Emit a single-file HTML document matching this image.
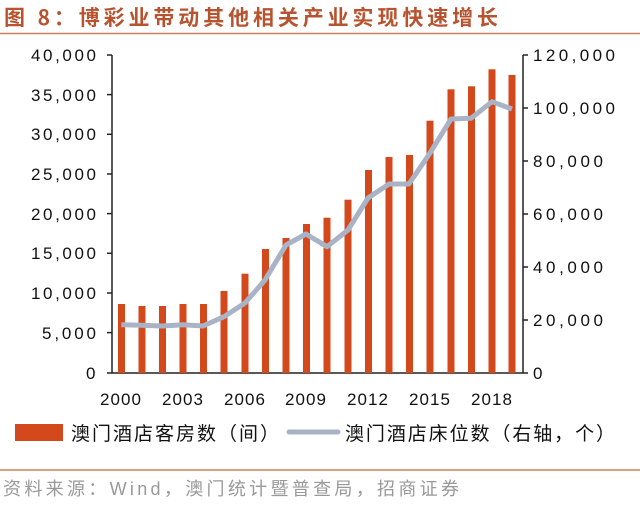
<!DOCTYPE html>
<html><head><meta charset="utf-8"><style>
body{margin:0;background:#fff;}
svg text{font-family:"Liberation Sans","Noto Sans CJK SC",sans-serif;}
</style></head><body>
<svg width="640" height="502" viewBox="0 0 640 502" xmlns="http://www.w3.org/2000/svg">
<text x="4" y="25" font-size="21" fill="#b8532f" font-weight="bold" textLength="494" lengthAdjust="spacing" style="font-family:'Noto Sans CJK SC',sans-serif">图 8：博彩业带动其他相关产业实现快速增长</text>
<line x1="0" y1="33.5" x2="640" y2="33.5" stroke="#c9825f" stroke-width="1.5"/>
<g stroke="#222" stroke-width="1.5" fill="none">
<line x1="112" y1="55" x2="112" y2="373"/>
<line x1="112" y1="373" x2="523" y2="373"/>
<line x1="523" y1="55" x2="523" y2="373"/>
<line x1="107" y1="55" x2="112" y2="55"/><line x1="107" y1="94.6" x2="112" y2="94.6"/><line x1="107" y1="134.3" x2="112" y2="134.3"/><line x1="107" y1="174" x2="112" y2="174"/><line x1="107" y1="213.6" x2="112" y2="213.6"/><line x1="107" y1="253.3" x2="112" y2="253.3"/><line x1="107" y1="293" x2="112" y2="293"/><line x1="107" y1="332.6" x2="112" y2="332.6"/><line x1="107" y1="373" x2="112" y2="373"/>
<line x1="523" y1="55" x2="528" y2="55"/><line x1="523" y1="108" x2="528" y2="108"/><line x1="523" y1="161" x2="528" y2="161"/><line x1="523" y1="214" x2="528" y2="214"/><line x1="523" y1="267" x2="528" y2="267"/><line x1="523" y1="320" x2="528" y2="320"/><line x1="523" y1="373" x2="528" y2="373"/>
</g>
<g font-size="17" fill="#111">
<text x="31" y="61" textLength="65" lengthAdjust="spacing">40,000</text><text x="31" y="101" textLength="65" lengthAdjust="spacing">35,000</text><text x="31" y="140" textLength="65" lengthAdjust="spacing">30,000</text><text x="31" y="180" textLength="65" lengthAdjust="spacing">25,000</text><text x="31" y="220" textLength="65" lengthAdjust="spacing">20,000</text><text x="31" y="259" textLength="65" lengthAdjust="spacing">15,000</text><text x="31" y="299" textLength="65" lengthAdjust="spacing">10,000</text><text x="42" y="339" textLength="54" lengthAdjust="spacing">5,000</text><text x="86" y="379">0</text>
</g>
<g font-size="17" fill="#111">
<text x="533" y="61" textLength="82" lengthAdjust="spacing">120,000</text><text x="533" y="114" textLength="82" lengthAdjust="spacing">100,000</text><text x="533" y="167" textLength="70" lengthAdjust="spacing">80,000</text><text x="533" y="220" textLength="70" lengthAdjust="spacing">60,000</text><text x="533" y="273" textLength="70" lengthAdjust="spacing">40,000</text><text x="533" y="326" textLength="70" lengthAdjust="spacing">20,000</text><text x="533" y="379">0</text>
</g>
<g fill="#d4491b">
<rect x="118" y="304" width="7" height="69"/><rect x="138.5" y="306" width="7" height="67"/><rect x="159" y="306" width="7" height="67"/><rect x="179.5" y="304" width="7" height="69"/><rect x="200" y="304" width="7" height="69"/>
<rect x="220.5" y="291" width="7" height="82"/><rect x="241.5" y="273.7" width="7" height="99.3"/><rect x="262" y="249" width="7" height="124"/><rect x="282.5" y="238" width="7" height="135"/><rect x="303" y="224" width="7" height="149"/>
<rect x="323.5" y="217.7" width="7" height="155.3"/><rect x="344.5" y="199.7" width="7" height="173.3"/><rect x="365" y="170" width="7" height="203"/><rect x="385.5" y="157" width="7" height="216"/><rect x="406" y="155" width="7" height="218"/>
<rect x="426.5" y="120.7" width="7" height="252.3"/><rect x="447.5" y="89.3" width="7" height="283.7"/><rect x="468" y="86.3" width="7" height="286.7"/><rect x="488.5" y="69.3" width="7" height="303.7"/><rect x="508.5" y="75" width="7" height="298"/>
</g>
<polyline fill="none" stroke="#a9b3c6" stroke-width="5" stroke-linejoin="round" points="121.3,324.7 141.7,325.3 162,326 183,324.7 203,326 224,316.7 245,303 265,280 286,245 306,234 327,246.7 348,230 368,198 389,184 409,184 430,153 451,119 471,118.3 492,101.7 512,109"/>
<g font-size="17" fill="#111">
<text x="100" y="405" textLength="41" lengthAdjust="spacing">2000</text><text x="162" y="405" textLength="41" lengthAdjust="spacing">2003</text><text x="224" y="405" textLength="41" lengthAdjust="spacing">2006</text><text x="285" y="405" textLength="41" lengthAdjust="spacing">2009</text><text x="347" y="405" textLength="41" lengthAdjust="spacing">2012</text><text x="409" y="405" textLength="41" lengthAdjust="spacing">2015</text><text x="471" y="405" textLength="41" lengthAdjust="spacing">2018</text>
</g>
<rect x="15" y="424" width="48" height="17" fill="#d4491b"/>
<text x="71" y="440" font-size="19" fill="#111" textLength="208" lengthAdjust="spacing">澳门酒店客房数（间）</text>
<line x1="289" y1="432" x2="338" y2="432" stroke="#a9b3c6" stroke-width="5" stroke-linecap="round"/>
<text x="345" y="440" font-size="19" fill="#111" textLength="270" lengthAdjust="spacing">澳门酒店床位数（右轴，个）</text>
<line x1="0" y1="470" x2="640" y2="470" stroke="#c9825f" stroke-width="1.5"/>
<text x="3" y="495" font-size="18" fill="#999" textLength="456" lengthAdjust="spacing">资料来源：Wind，澳门统计暨普查局，招商证券</text>
</svg>
</body></html>
